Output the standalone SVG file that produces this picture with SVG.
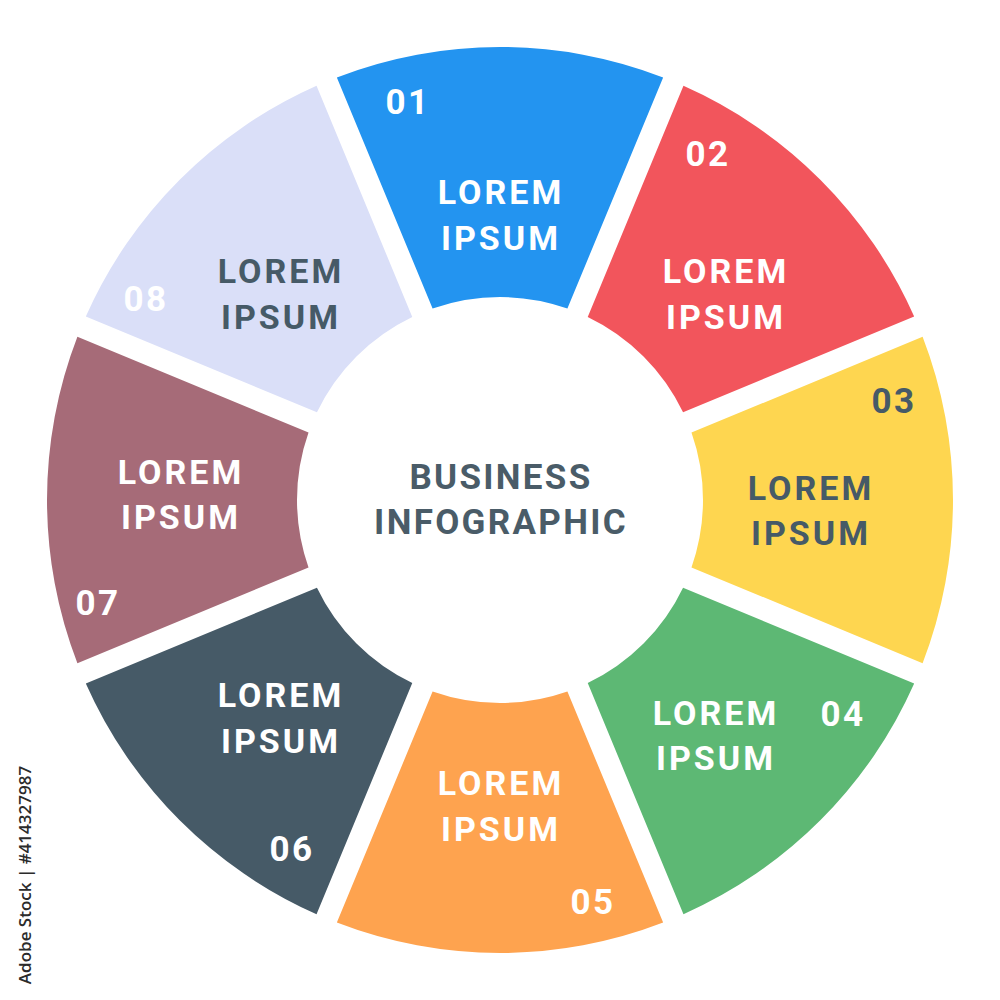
<svg xmlns="http://www.w3.org/2000/svg" xmlns:xlink="http://www.w3.org/1999/xlink" width="1000" height="1000" viewBox="0 0 1000 1000">
  <style>
    .t { font-family: Roboto, "Noto Sans", "Liberation Sans", sans-serif; font-weight: bold; text-anchor: middle; }
    .lbl { font-size: 34px; letter-spacing: 3px; }
    .num { font-size: 35px; letter-spacing: 2.5px; }
    .w { fill: #ffffff; }
    .d { fill: #465a67; }
    .ctr { font-size: 35px; fill: #4a5c68; letter-spacing: 2.3px; }
    .stock { font-family: "Open Sans", "Liberation Sans", sans-serif; font-size: 17px; font-weight: 600; fill: #2b2b2b; text-anchor: middle; }
  </style>
  <defs>
    <path id="seg" d="M336.86,77.40 A453,453 0 0 1 663.14,77.40 L567.41,308.52 A203,203 0 0 0 432.59,308.52 Z"/>
  </defs>
  <rect x="0" y="0" width="1000" height="1000" fill="#ffffff"/>

  <g id="seg01">
    <use xlink:href="#seg" fill="#2394f0"/>
    <text class="t num w" x="408" y="114">01</text>
    <text class="t lbl w" x="501" y="204">LOREM</text>
    <text class="t lbl w" x="501" y="250">IPSUM</text>
  </g>
  <g id="seg02">
    <use xlink:href="#seg" transform="rotate(45 500 500)" fill="#f2555c"/>
    <text class="t num w" x="708" y="166">02</text>
    <text class="t lbl w" x="726" y="283">LOREM</text>
    <text class="t lbl w" x="726" y="329">IPSUM</text>
  </g>
  <g id="seg03">
    <use xlink:href="#seg" transform="rotate(90 500 500)" fill="#fed650"/>
    <text class="t num d" x="894" y="413">03</text>
    <text class="t lbl d" x="811" y="500">LOREM</text>
    <text class="t lbl d" x="811" y="545">IPSUM</text>
  </g>
  <g id="seg04">
    <use xlink:href="#seg" transform="rotate(135 500 500)" fill="#5db874"/>
    <text class="t num w" x="843" y="726">04</text>
    <text class="t lbl w" x="716" y="725">LOREM</text>
    <text class="t lbl w" x="716" y="770">IPSUM</text>
  </g>
  <g id="seg05">
    <use xlink:href="#seg" transform="rotate(180 500 500)" fill="#fea34f"/>
    <text class="t num w" x="593" y="914">05</text>
    <text class="t lbl w" x="501" y="795">LOREM</text>
    <text class="t lbl w" x="501" y="841">IPSUM</text>
  </g>
  <g id="seg06">
    <use xlink:href="#seg" transform="rotate(225 500 500)" fill="#465a67"/>
    <text class="t num w" x="292" y="861">06</text>
    <text class="t lbl w" x="281" y="707">LOREM</text>
    <text class="t lbl w" x="281" y="753">IPSUM</text>
  </g>
  <g id="seg07">
    <use xlink:href="#seg" transform="rotate(270 500 500)" fill="#a66b78"/>
    <text class="t num w" x="98" y="615">07</text>
    <text class="t lbl w" x="181" y="484">LOREM</text>
    <text class="t lbl w" x="181" y="529">IPSUM</text>
  </g>
  <g id="seg08">
    <use xlink:href="#seg" transform="rotate(315 500 500)" fill="#dadff8"/>
    <text class="t num w" x="146" y="311">08</text>
    <text class="t lbl d" x="281" y="283">LOREM</text>
    <text class="t lbl d" x="281" y="329">IPSUM</text>
  </g>

  <g id="center">
    <text class="t ctr" x="501" y="489">BUSINESS</text>
    <text class="t ctr" x="501" y="534">INFOGRAPHIC</text>
  </g>

  <g id="connectors"></g>

  <text class="stock" x="0" y="0" transform="translate(31 875) rotate(-90)">Adobe Stock | #414327987</text>
</svg>
